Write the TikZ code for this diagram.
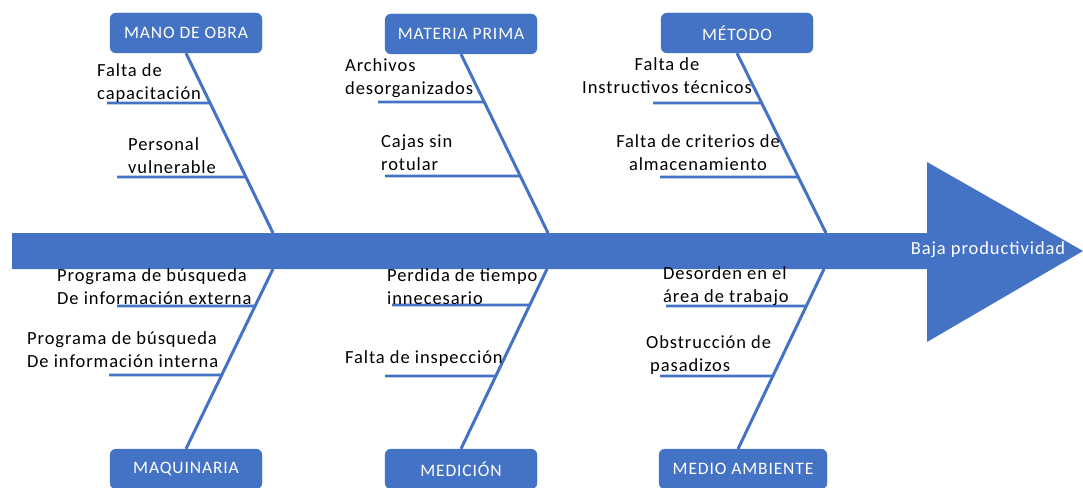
\documentclass[tikz,border=0pt]{standalone}
\usepackage{fontspec}
\setmainfont{Carlito}[LetterSpace=5]
\definecolor{fb}{HTML}{4472C4}
\begin{document}
\begin{tikzpicture}[x=1pt,y=-1pt,
  cat/.style={draw=fb,fill=fb,rounded corners=6pt,minimum width=152pt,minimum height=40pt,
              text=white,font=\fontsize{17.5}{20}\selectfont,inner sep=0pt},
  bone/.style={draw=fb,line width=3pt},
  sub/.style={draw=fb,line width=2.6pt},
  lbl/.style={font=\fontsize{18.5}{23}\selectfont,inner sep=0pt,text=black}]
\useasboundingbox (0,0) rectangle (1083,487);
% spine and head
\fill[fb] (12,233) -- (927,233) -- (927,162) -- (1083,251) -- (927,342) -- (927,269) -- (12,269) -- cycle;
\node[text=white,font=\fontsize{18.5}{22}\selectfont,inner sep=0pt] (eff) at (988,250) {Baja productividad};
\coordinate (s1) at (273,233);
\coordinate (s2) at (548,233);
\coordinate (s3) at (826,233);
\coordinate (b1) at (273,269);
\coordinate (b2) at (547,269);
\coordinate (b3) at (824,269);
% category boxes
\node[cat] (mo) at (186,33) {MANO DE OBRA};
\node[cat] (mp) at (461,34) {MATERIA PRIMA};
\node[cat] (me) at (737,33) {MÉTODO};
\node[cat] (maq) at (186,469) {MAQUINARIA};
\node[cat] (med) at (461,469) {MEDICIÓN};
\node[cat,minimum width=168pt] (ma) at (743,469) {MEDIO AMBIENTE};
\coordinate (man) at (738,449);
% main bones
\draw[bone] (mo.south) -- (s1);
\draw[bone] (mp.south) -- (s2);
\draw[bone] (me.south) -- (s3);
\draw[bone] (b1) -- (maq.north);
\draw[bone] (b2) -- (med.north);
\draw[bone] (b3) -- (man);
% sub bones
\coordinate (a1) at (107,103);
\coordinate (a2) at (117,177);
\coordinate (a3) at (378,102);
\coordinate (a4) at (385,176);
\coordinate (a5) at (653,103);
\coordinate (a6) at (660,177);
\coordinate (a7) at (117,306);
\coordinate (a8) at (109,375);
\coordinate (a9) at (392,305);
\coordinate (a10) at (385,376);
\coordinate (a11) at (666,306);
\coordinate (a12) at (660,376);
\draw[sub] (a1) -- (intersection of mo.south--s1 and 0,103--1000,103);
\draw[sub] (a2) -- (intersection of mo.south--s1 and 0,177--1000,177);
\draw[sub] (a3) -- (intersection of mp.south--s2 and 0,102--1000,102);
\draw[sub] (a4) -- (intersection of mp.south--s2 and 0,176--1000,176);
\draw[sub] (a5) -- (intersection of me.south--s3 and 0,103--1000,103);
\draw[sub] (a6) -- (intersection of me.south--s3 and 0,177--1000,177);
\draw[sub] (a7) -- (intersection of b1--maq.north and 0,306--1000,306);
\draw[sub] (a8) -- (intersection of b1--maq.north and 0,375--1000,375);
\draw[sub] (a9) -- (intersection of b2--med.north and 0,305--1000,305);
\draw[sub] (a10) -- (intersection of b2--med.north and 0,376--1000,376);
\draw[sub] (a11) -- (intersection of b3--man and 0,306--1000,306);
\draw[sub] (a12) -- (intersection of b3--man and 0,376--1000,376);
% labels
\node[lbl,anchor=west,align=left] (t1) at (97,83) {Falta de\\capacitación};
\node[lbl,anchor=west,align=left] (t2) at (128,156) {Personal\\vulnerable};
\node[lbl,anchor=west,align=left] (t3) at (345,78) {Archivos\\desorganizados};
\node[lbl,anchor=west,align=left] (t4) at (381,153) {Cajas sin\\rotular};
\node[lbl,align=center] (t5) at (667,76) {Falta de\\Instructivos técnicos};
\node[lbl,align=center] (t6) at (698,153) {Falta de criterios de\\almacenamiento};
\node[lbl,anchor=west,align=left] (t7) at (57,287) {Programa de búsqueda\\De información externa};
\node[lbl,anchor=west,align=left] (t8) at (27,350) {Programa de búsqueda\\De información interna};
\node[lbl,anchor=west,align=left] (t9) at (387,287) {Perdida de tiempo\\innecesario};
\node[lbl,anchor=west] (t10) at (345,359) {Falta de inspección};
\node[lbl,anchor=west,align=left] (t11) at (663,286) {Desorden en el\\área de trabajo};
\node[lbl,anchor=west,align=left] (t12) at (646,355) {Obstrucción de\\\hspace*{4pt}pasadizos};
\end{tikzpicture}
\end{document}
